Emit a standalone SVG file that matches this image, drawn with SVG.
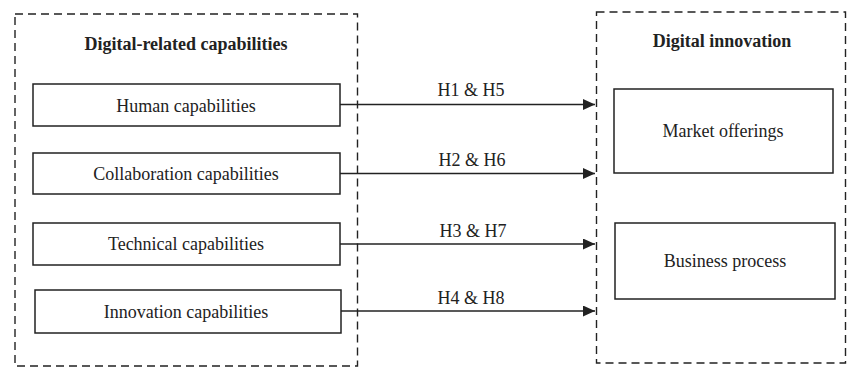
<svg xmlns="http://www.w3.org/2000/svg" width="847" height="368" viewBox="0 0 847 368">
<defs>
<style>
.dash{fill:none;stroke:#222;stroke-width:1.4;stroke-dasharray:8,5}
.box{fill:#fff;stroke:#222;stroke-width:1.5}
.t{font-family:"Liberation Serif","Times New Roman",serif;font-size:18px;fill:#222;text-anchor:middle}
.b{font-weight:bold}
.c{stroke:#222;stroke-width:1.4;fill:none}
</style>
<marker id="ah" markerUnits="userSpaceOnUse" markerWidth="14" markerHeight="12" refX="12" refY="5.5" orient="auto">
<path d="M0,0 L12,5.5 L0,11 Z" fill="#222"/>
</marker>
</defs>
<rect x="0" y="0" width="847" height="368" fill="#fff"/>
<g id="group-left">
<rect class="dash" x="15" y="14" width="342.5" height="352"/>
<text class="t b" x="186" y="50">Digital-related capabilities</text>
</g>
<g id="group-right">
<rect class="dash" x="596.5" y="12" width="249" height="351"/>
<text class="t b" x="722" y="47">Digital innovation</text>
</g>
<g id="human">
<rect class="box" x="33" y="84" width="307" height="42"/>
<text class="t" x="186" y="111.5">Human capabilities</text>
</g>
<g id="collaboration">
<rect class="box" x="33" y="153" width="307" height="41"/>
<text class="t" x="186" y="180">Collaboration capabilities</text>
</g>
<g id="technical">
<rect class="box" x="33" y="223" width="307" height="42"/>
<text class="t" x="186" y="250">Technical capabilities</text>
</g>
<g id="innovation">
<rect class="box" x="35" y="290" width="306" height="43"/>
<text class="t" x="186" y="318">Innovation capabilities</text>
</g>
<g id="market">
<rect class="box" x="614" y="89" width="219" height="84"/>
<text class="t" x="723" y="137">Market offerings</text>
</g>
<g id="business">
<rect class="box" x="615" y="223" width="220" height="76"/>
<text class="t" x="725" y="267">Business process</text>
</g>
<g id="connectors">
<line class="c" x1="340" y1="104.5" x2="595" y2="104.5" marker-end="url(#ah)"/>
<line class="c" x1="340" y1="173.5" x2="595" y2="173.5" marker-end="url(#ah)"/>
<line class="c" x1="340" y1="244" x2="595" y2="244" marker-end="url(#ah)"/>
<line class="c" x1="341" y1="311" x2="595" y2="311" marker-end="url(#ah)"/>
<text class="t" x="471" y="96">H1 &amp; H5</text>
<text class="t" x="472" y="166">H2 &amp; H6</text>
<text class="t" x="473" y="236.5">H3 &amp; H7</text>
<text class="t" x="471" y="303.5">H4 &amp; H8</text>
</g>
</svg>
